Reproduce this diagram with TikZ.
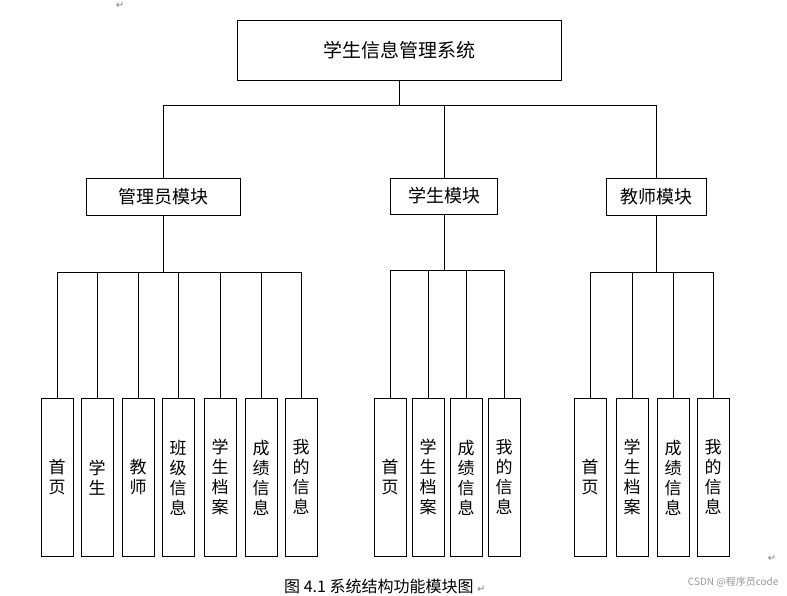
\documentclass[tikz,border=0pt]{standalone}
\usepackage{fontspec}
\setmainfont{Noto Sans CJK SC}
\newfontfamily\djv{DejaVu Sans}
\begin{document}
\begin{tikzpicture}[x=1pt,y=-1pt,
  bx/.style={draw,thick,fill=white,inner sep=0pt,align=center},
  leaf/.style={bx,minimum width=32pt,minimum height=158pt,font=\fontsize{17}{20}\selectfont,anchor=north},
  ln/.style={thick}]
\useasboundingbox (0,0) rectangle (787,596);
\node[bx,minimum width=324pt,minimum height=60pt,font=\fontsize{19}{22}\selectfont] (top) at (399,50) {学生信息管理系统};
\node[bx,minimum width=154pt,minimum height=37pt,font=\fontsize{18}{21}\selectfont] (adm) at (163,196.5) {管理员模块};
\node[bx,minimum width=107pt,minimum height=36pt,font=\fontsize{18}{21}\selectfont] (stu) at (444,196) {学生模块};
\node[bx,minimum width=100pt,minimum height=37pt,font=\fontsize{18}{21}\selectfont] (tea) at (656,196.5) {教师模块};
\coordinate (hub) at (399,105);
\coordinate (hl) at (163,105);
\coordinate (hr) at (656,105);
\draw[ln] (top.south) -- (hub);
\draw[ln] (hl) -- (hr);
\draw[ln] (adm.north) -- (hl);
\draw[ln] (tea.north) -- (hr);
\draw[ln] (stu.north) -- (stu.north |- hub);
\foreach \x/\t/\n in {57/首\\页/a1,97/学\\生/a2,138/教\\师/a3,178/班\\级\\信\\息/a4,220/学\\生\\档\\案/a5,261/成\\绩\\信\\息/a6,301/我\\的\\信\\息/a7}{
  \node[leaf] (\n) at (\x,398) {\t};
  \draw[ln] (\n.north) -- (\x,272);
}
\draw[ln] (57,272) -- (301,272);
\draw[ln] (adm.south) -- (163,272);
\foreach \x/\t/\n in {390/首\\页/s1,428/学\\生\\档\\案/s2,466/成\\绩\\信\\息/s3,504/我\\的\\信\\息/s4}{
  \node[leaf] (\n) at (\x,398) {\t};
  \draw[ln] (\n.north) -- (\x,270);
}
\draw[ln] (390,270) -- (504,270);
\draw[ln] (stu.south) -- (444,270);
\foreach \x/\t/\n in {590/首\\页/t1,632/学\\生\\档\\案/t2,673/成\\绩\\信\\息/t3,713/我\\的\\信\\息/t4}{
  \node[leaf] (\n) at (\x,398) {\t};
  \draw[ln] (\n.north) -- (\x,272);
}
\draw[ln] (590,272) -- (713,272);
\draw[ln] (tea.south) -- (656,272);
\node[font=\djv\fontsize{10}{12}\selectfont,gray,inner sep=1pt] (r1) at (120,5) {↵};
\node[font=\djv\fontsize{10}{12}\selectfont,gray] (r2) at (772,558) {↵};
\node[font=\fontsize{16}{19}\selectfont,anchor=west,inner sep=1pt] (cap) at (283,586) {图 4.1 系统结构功能模块图 \textcolor{gray}{\djv\fontsize{10}{12}\selectfont ↵}};
\node[font=\fontsize{10}{12}\selectfont,gray!80,anchor=east] (wm) at (782,582) {CSDN @程序员code};
\end{tikzpicture}
\end{document}
